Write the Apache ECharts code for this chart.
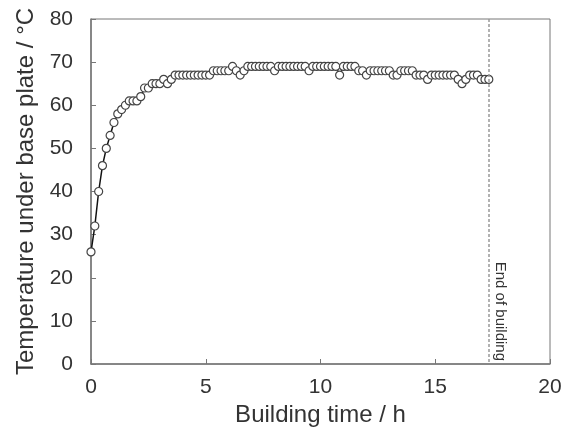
<!DOCTYPE html>
<html>
<head>
<meta charset="utf-8">
<script src="https://cdn.jsdelivr.net/npm/echarts@6/dist/echarts.min.js"></script>
<style>
  html, body { margin: 0; padding: 0; background: #fff; }
  #chart { width: 566px; height: 432px; }
</style>
</head>
<body>
<div id="chart"></div>
<script>
// Temperature under base plate, one reading every 10 min
const stepHours = 1 / 6;
const temperatures = [
    26, 32, 40, 46, 50, 53, 56, 58, 59, 60,
    61, 61, 61, 62, 64, 64, 65, 65, 65, 66,
    65, 66, 67, 67, 67, 67, 67, 67, 67, 67,
    67, 67, 68, 68, 68, 68, 68, 69, 68, 67,
    68, 69, 69, 69, 69, 69, 69, 69, 68, 69,
    69, 69, 69, 69, 69, 69, 69, 68, 69, 69,
    69, 69, 69, 69, 69, 67, 69, 69, 69, 69,
    68, 68, 67, 68, 68, 68, 68, 68, 68, 67,
    67, 68, 68, 68, 68, 67, 67, 67, 66, 67,
    67, 67, 67, 67, 67, 67, 66, 65, 66, 67,
    67, 67, 66, 66, 66
];
const endOfBuilding = 17.35;
const xTicks = [0, 5, 10, 15, 20];
const yTicks = [0, 10, 20, 30, 40, 50, 60, 70, 80];

const font = 'Liberation Sans';
const textColor = '#333';
const points = temperatures.map((v, i) => [i * stepHours, v]);

const chart = echarts.init(document.getElementById('chart'));

chart.setOption({
    animation: false,
    grid: {
        left: 91, right: 16, top: 19, bottom: 67,
        show: true, borderColor: '#777', borderWidth: 1
    },
    xAxis: {
        type: 'value',
        min: xTicks[0], max: xTicks[xTicks.length - 1], interval: 5,
        name: 'Building time / h',
        nameLocation: 'middle',
        nameGap: 39,
        nameTextStyle: { fontFamily: font, fontSize: 24, color: textColor },
        axisLine: { lineStyle: { color: '#777', width: 1.5 } },
        axisTick: { inside: true, length: 5, lineStyle: { color: '#777' } },
        axisLabel: { fontFamily: font, fontSize: 21, color: textColor, margin: 13 },
        splitLine: { show: false }
    },
    yAxis: {
        type: 'value',
        min: yTicks[0], max: yTicks[yTicks.length - 1], interval: 10,
        name: 'Temperature under base plate / °C',
        nameLocation: 'middle',
        nameGap: 50,
        nameTextStyle: { fontFamily: font, fontSize: 24, color: textColor },
        axisLine: { show: true, lineStyle: { color: '#777', width: 1.5 } },
        axisTick: { show: true, inside: true, length: 5, lineStyle: { color: '#777' } },
        axisLabel: { fontFamily: font, fontSize: 21, color: textColor, margin: 18 },
        splitLine: { show: false }
    },
    series: [{
        type: 'line',
        data: points,
        symbol: 'circle',
        symbolSize: 8,
        showAllSymbol: true,
        lineStyle: { color: '#111', width: 1.5 },
        itemStyle: { color: '#fff', borderColor: '#444', borderWidth: 1.2 },
        markLine: {
            silent: true,
            symbol: 'none',
            lineStyle: { color: '#999', type: [3, 2], width: 1.5 },
            label: {
                show: true,
                position: 'insideEndTop',
                formatter: 'End of building',
                fontFamily: font,
                fontSize: 15,
                color: textColor,
                distance: 3
            },
            data: [[
                { coord: [endOfBuilding, 80] },
                { coord: [endOfBuilding, 0] }
            ]]
        }
    }]
});
</script>
</body>
</html>
